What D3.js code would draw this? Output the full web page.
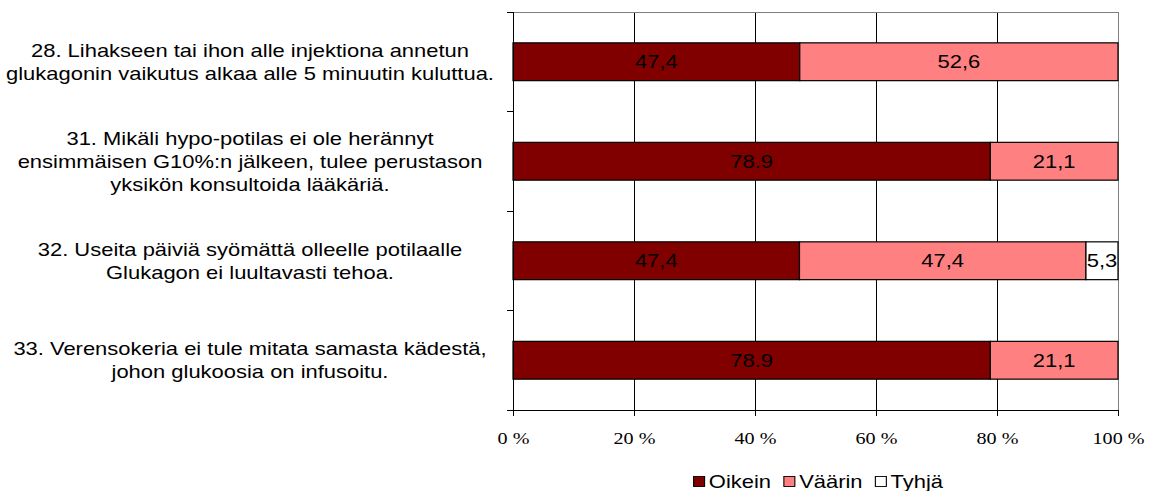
<!DOCTYPE html>
<html>
<head>
<meta charset="utf-8">
<title></title>
<style>
body { margin: 0; background: #fff; }
text.cat { font: 18px "Liberation Sans", Arial, sans-serif; fill: #000; }
text.val { font: 18px "Liberation Sans", Arial, sans-serif; fill: #000; }
text.tick { font: 16.5px "Liberation Serif", "Times New Roman", serif; fill: #000; }
text.leg { font: 18px "Liberation Sans", Arial, sans-serif; fill: #000; }
</style>
</head>
<body>
<script src="https://cdn.jsdelivr.net/npm/d3@7"></script>
<script>

// questions, one line per array entry
var categories = [
  ["28. Lihakseen tai ihon alle injektiona annetun", "glukagonin vaikutus alkaa alle 5 minuutin kuluttua."],
  ["31. Mikäli hypo-potilas ei ole herännyt", "ensimmäisen G10%:n jälkeen, tulee perustason", "yksikön konsultoida lääkäriä."],
  ["32. Useita päiviä syömättä olleelle potilaalle", "Glukagon ei luultavasti tehoa."],
  ["33. Verensokeria ei tule mitata samasta kädestä,", "johon glukoosia on infusoitu."]
];

var seriesNames = ["Oikein", "Väärin", "Tyhjä"];
var oikein = [47.4, 78.9, 47.4, 78.9];
var vaarin = [52.6, 21.1, 47.4, 21.1];
var tyhja  = [0, 0, 5.3, 0];
var oikeinLabels = ["47,4", "78.9", "47,4", "78.9"];
var vaarinLabels = ["52,6", "21,1", "47,4", "21,1"];
var tyhjaLabels  = ["", "", "5,3", ""];
var xTicks = [0, 20, 40, 60, 80, 100];

var colors = ["#800000", "#ff8080", "#ffffff"];
var sx = 1.22; // text in the original is drawn wide

var width = 1155, height = 491;
var margin = {left: 513, right: 37, top: 12, bottom: 81};
var innerW = width - margin.left - margin.right,
    innerH = height - margin.top - margin.bottom;

var svg = d3.select("body").append("svg")
    .attr("width", width)
    .attr("height", height);

var g = svg.append("g")
    .attr("transform", "translate(" + margin.left + "," + margin.top + ")");

var x = d3.scaleLinear().domain([0, 100]).range([0, innerW]);
var y = d3.scaleBand().domain(d3.range(categories.length)).range([0, innerH]).paddingInner(0.62).paddingOuter(0.31);
var yOuter = d3.scaleBand().domain(d3.range(categories.length)).range([0, innerH]);

// build rows, normalised to 100 %
var rows = categories.map(function(c, i) {
  var vals = [oikein[i], vaarin[i], tyhja[i]];
  var labs = [oikeinLabels[i], vaarinLabels[i], tyhjaLabels[i]];
  var total = d3.sum(vals), acc = 0;
  return vals.map(function(v, k) {
    var seg = {row: i, k: k, x0: acc / total * 100, x1: (acc + v) / total * 100, label: labs[k]};
    acc += v;
    return seg;
  });
});

// gridlines
g.selectAll("line.grid")
    .data(xTicks.slice(1, -1))
    .enter().append("line")
    .attr("x1", function(d) { return x(d); })
    .attr("x2", function(d) { return x(d); })
    .attr("y1", 0).attr("y2", innerH)
    .attr("stroke", "#000").attr("shape-rendering", "crispEdges");

// top & right border
g.append("path")
    .attr("d", "M0,0.5H" + innerW + "V" + innerH)
    .attr("fill", "none").attr("stroke", "#808080").attr("shape-rendering", "crispEdges");

// bars
g.selectAll("g.row")
    .data(rows)
    .enter().append("g")
    .each(function(segs) {
      var gr = d3.select(this);
      segs.filter(function(s) { return s.x1 > s.x0; }).forEach(function(s) {
        gr.append("rect")
            .attr("x", x(s.x0))
            .attr("y", y(s.row))
            .attr("width", x(s.x1) - x(s.x0))
            .attr("height", y.bandwidth())
            .attr("fill", colors[s.k])
            .attr("stroke", "#000")
            .attr("stroke-width", 1.2);
        gr.append("text")
            .attr("class", "val")
            .attr("transform", "translate(" + (x(s.x0) + x(s.x1)) / 2 + "," + (y(s.row) + y.bandwidth() / 2) + ") scale(" + sx + ",1)")
            .attr("dy", "0.35em")
            .attr("text-anchor", "middle")
            .text(s.label);
      });
    });

// left axis
g.append("line")
    .attr("x1", 0).attr("x2", 0).attr("y1", 0).attr("y2", innerH)
    .attr("stroke", "#000").attr("shape-rendering", "crispEdges");
g.selectAll("line.ytick")
    .data(d3.range(categories.length + 1))
    .enter().append("line")
    .attr("x1", -6).attr("x2", 0)
    .attr("y1", function(d) { return d * yOuter.step(); })
    .attr("y2", function(d) { return d * yOuter.step(); })
    .attr("stroke", "#000").attr("shape-rendering", "crispEdges");

// bottom axis
var xAxis = g.append("g")
    .attr("transform", "translate(0," + innerH + ")")
    .call(d3.axisBottom(x).tickValues(xTicks).tickSize(6).tickFormat(function(d) { return d + " %"; }));
xAxis.select(".domain").attr("d", "M-6,0.5H" + innerW);
xAxis.selectAll("path, line").attr("stroke", "#000");
xAxis.selectAll("text").attr("class", "tick").attr("font-family", null).attr("font-size", null)
    .attr("y", 22).attr("transform", "scale(" + sx + ",1)");

// category labels
g.selectAll("text.cat")
    .data(categories)
    .enter().append("text")
    .attr("class", "cat")
    .attr("text-anchor", "middle")
    .attr("transform", "translate(" + (250 - margin.left) + ",0) scale(" + sx + ",1)")
    .each(function(lines, i) {
      var t = d3.select(this);
      var lh = 23;
      var cy = y(i) + y.bandwidth() / 2;
      lines.forEach(function(l, j) {
        t.append("tspan")
            .attr("x", 0)
            .attr("y", cy + (j - (lines.length - 1) / 2) * lh)
            .attr("dy", "0.35em")
            .text(l);
      });
    });

// legend
var legend = svg.append("g").attr("transform", "translate(693,482)");
var lx = 0;
seriesNames.forEach(function(n, i) {
  var it = legend.append("g").attr("transform", "translate(" + lx + ",0) scale(" + sx + ",1)");
  it.append("rect")
      .attr("x", 0.5).attr("y", -5.5).attr("width", 9).attr("height", 10)
      .attr("fill", colors[i]).attr("stroke", "#000").attr("stroke-width", 0.9);
  var t = it.append("text").attr("class", "leg")
      .attr("x", 13).attr("dy", "0.35em").text(n);
  lx += (13 + t.node().getComputedTextLength() + 10) * sx;
});

</script>
</body>
</html>
